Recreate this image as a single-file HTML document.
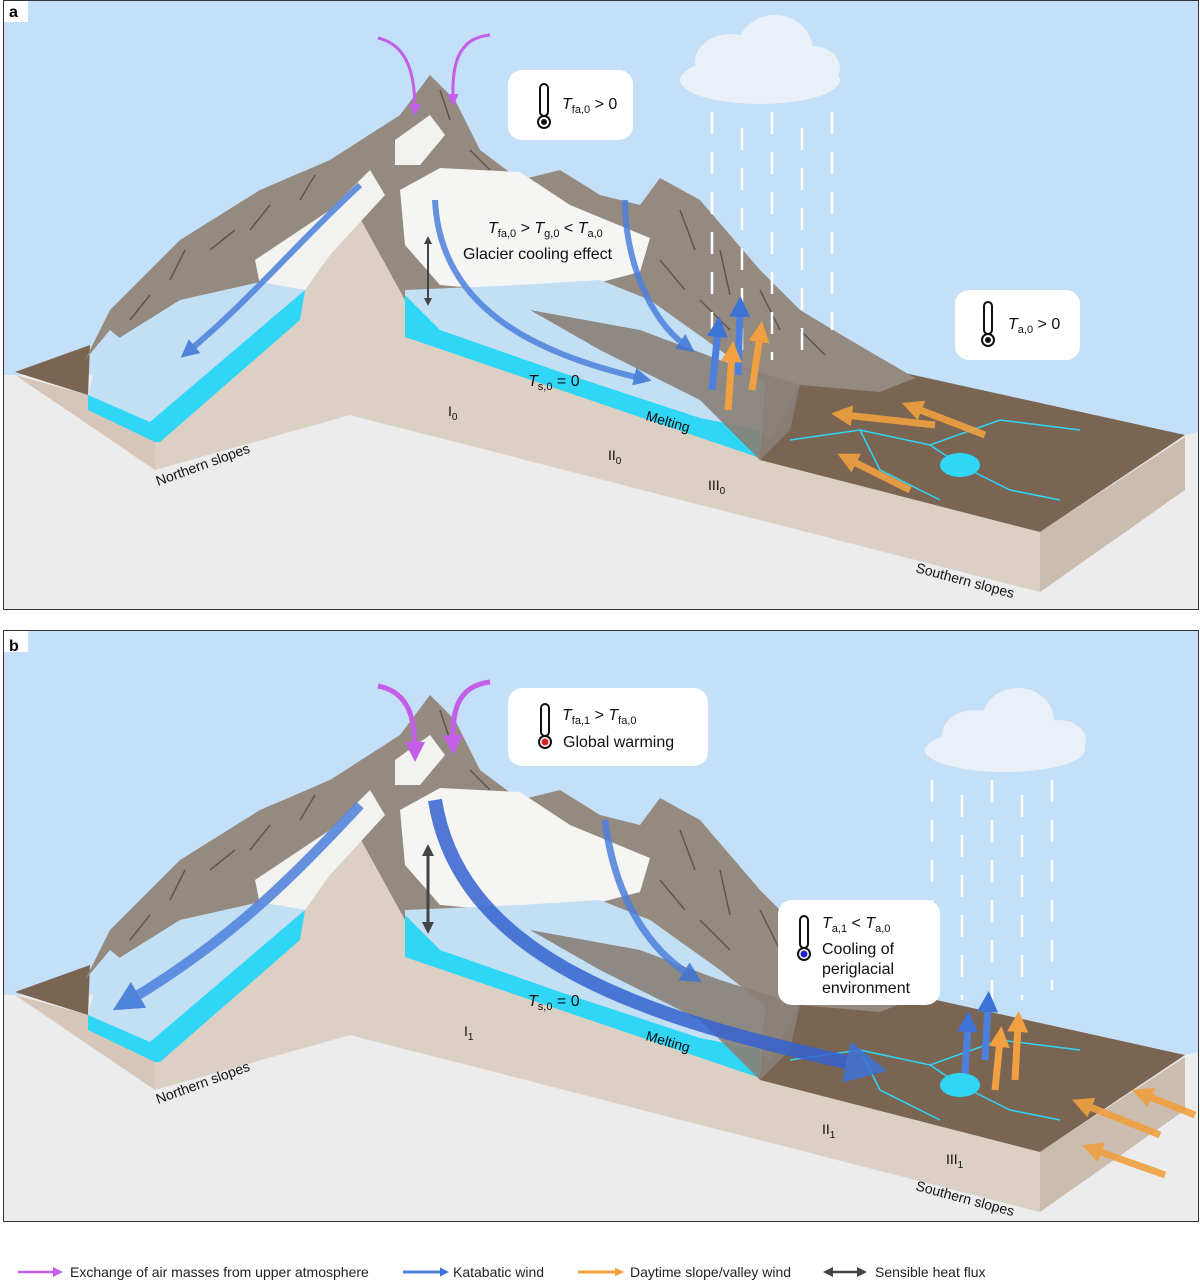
<!DOCTYPE html>
<html><head><meta charset="utf-8"><style>
html,body{margin:0;padding:0;background:#fff;}
svg{display:block;font-family:"Liberation Sans",sans-serif;}
</style></head><body>
<svg width="1200" height="1281" viewBox="0 0 1200 1281" xmlns="http://www.w3.org/2000/svg">
<defs>
<marker id="mM" markerWidth="4" markerHeight="4" refX="2" refY="2" orient="auto" markerUnits="strokeWidth"><path d="M0,0 L4,2 L0,4 z" fill="#c35ee8"/></marker>
<marker id="mB" markerWidth="3" markerHeight="3" refX="1" refY="1.5" orient="auto" markerUnits="strokeWidth"><path d="M0,0 L3,1.5 L0,3 z" fill="#3d73d6"/></marker>
<marker id="mO" markerWidth="3" markerHeight="3" refX="1" refY="1.5" orient="auto" markerUnits="strokeWidth"><path d="M0,0 L3,1.5 L0,3 z" fill="#f0a040"/></marker>
<marker id="mG" markerWidth="4" markerHeight="4" refX="2" refY="2" orient="auto" markerUnits="strokeWidth"><path d="M0,0 L4,2 L0,4 z" fill="#444"/></marker>
<marker id="mGs" markerWidth="4" markerHeight="4" refX="2" refY="2" orient="auto-start-reverse" markerUnits="strokeWidth"><path d="M0,0 L4,2 L0,4 z" fill="#444"/></marker>
<g id="terrain">
  <polygon points="15,375 155,470 155,440 88,395" fill="#d5c6b9"/>
  <polygon points="15,372 90,345 88,395" fill="#7a6553"/>
  <polygon points="350,200 350,415 155,470 155,440 190,400 300,290" fill="#dccfc3"/>
  <polygon points="350,200 405,295 405,335 760,458 1040,532 1040,592 350,415" fill="#dccfc3"/>
  <polygon points="1040,532 1185,437 1185,490 1040,592" fill="#cbbcb0"/>
  <polygon points="640,365 900,372 1185,435 1040,532 760,460 720,400" fill="#7a6553"/>
  <polygon points="85,360 110,310 180,240 260,190 330,160 400,115 430,75 455,100 480,150 520,180 560,170 600,195 640,205 660,178 700,200 760,270 800,310 850,340 915,378 880,392 800,385 770,440 720,400 640,300 560,330 405,300 350,200 300,290 190,395 110,330" fill="#958a80"/>
  <g stroke="#4a3f38" stroke-width="1.5" fill="none" opacity="0.7">
    <path d="M130,320 l20,-25 M170,280 l15,-30 M210,250 l25,-20 M250,230 l20,-25 M300,200 l15,-25 M440,90 l10,30 M470,150 l20,20 M680,210 l15,40 M720,250 l10,45 M760,290 l20,40 M800,330 l25,25 M700,300 l30,30 M660,260 l25,30"/>
  </g>
  <polygon points="255,260 330,210 370,170 385,195 330,255 305,290 260,285" fill="#f2f2f0"/>
  <polygon points="88,395 100,350 180,300 260,282 305,290 240,350 150,422" fill="#c2dff4"/>
  <polygon points="88,395 150,422 305,290 300,320 160,442 155,442 88,410" fill="#2fd6f5"/>
  <polygon points="395,140 430,115 445,135 420,165 395,165" fill="#f2f2f0"/>
  <polygon points="400,190 440,168 520,172 570,205 650,238 640,272 590,285 520,292 440,285 405,245" fill="#f5f5f3"/>
  <polygon points="405,290 520,285 600,280 650,300 720,350 765,385 760,455 405,330" fill="#c2dff4"/>
  <polygon points="405,295 440,330 560,372 700,418 760,430 760,458 405,337" fill="#2fd6f5"/>
  <polygon points="530,310 640,330 720,360 800,385 790,430 760,460 700,400 600,350" fill="#8a8078" opacity="0.9"/>
  <g stroke="#2fd6f5" stroke-width="1.5" fill="none">
    <path d="M790,440 L860,430 L930,445 L1000,420 L1080,430 M860,430 L880,470 L940,500 M960,465 L1010,490 L1060,500 M930,445 L960,465"/>
  </g>
</g>
</defs>

<!-- PANEL A -->
<rect x="3.5" y="0.5" width="1195" height="609" fill="#ececec" stroke="#333"/>
<polygon points="4,1 1198,1 1198,432 1185,435 900,372 4,375" fill="#c4dff8"/>
<use href="#terrain"/>
<g fill="#e9f0f7"><ellipse cx="760" cy="80" rx="80" ry="24"/><ellipse cx="730" cy="62" rx="35" ry="28"/><ellipse cx="775" cy="50" rx="38" ry="35"/><ellipse cx="812" cy="68" rx="28" ry="22"/></g>
<g stroke="#fff" stroke-width="2.5" stroke-dasharray="22,18">
<line x1="712" y1="112" x2="712" y2="350"/><line x1="742" y1="128" x2="742" y2="360"/><line x1="772" y1="112" x2="772" y2="360"/><line x1="802" y1="128" x2="802" y2="350"/><line x1="832" y1="112" x2="832" y2="330"/></g>
<path d="M378,38 C410,45 415,80 415,110" fill="none" stroke="#c35ee8" stroke-width="3" marker-end="url(#mM)"/>
<path d="M490,35 C455,38 452,70 453,100" fill="none" stroke="#c35ee8" stroke-width="3" marker-end="url(#mM)"/>
<path d="M360,185 C300,240 250,300 190,350" fill="none" stroke="#4d80dc" stroke-width="6" opacity="0.85" marker-end="url(#mB)"/>
<path d="M435,200 C440,300 520,350 640,378" fill="none" stroke="#4d80dc" stroke-width="6" opacity="0.85" marker-end="url(#mB)"/>
<path d="M625,200 C625,260 650,320 685,345" fill="none" stroke="#4d80dc" stroke-width="6" opacity="0.85" marker-end="url(#mB)"/>
<path d="M712,390 L718,330" stroke="#4d80dc" stroke-width="7" marker-end="url(#mB)"/>
<path d="M738,375 L740,310" stroke="#4d80dc" stroke-width="7" marker-end="url(#mB)"/>
<path d="M728,410 L732,355" stroke="#f0a040" stroke-width="7" marker-end="url(#mO)"/>
<path d="M752,390 L760,335" stroke="#f0a040" stroke-width="7" marker-end="url(#mO)"/>
<path d="M935,425 L845,415" stroke="#f0a040" stroke-width="7" opacity="0.9" marker-end="url(#mO)"/>
<path d="M985,435 L915,408" stroke="#f0a040" stroke-width="7" opacity="0.9" marker-end="url(#mO)"/>
<path d="M910,490 L850,460" stroke="#f0a040" stroke-width="7" opacity="0.9" marker-end="url(#mO)"/>
<line x1="428" y1="240" x2="428" y2="302" stroke="#444" stroke-width="2" marker-start="url(#mGs)" marker-end="url(#mG)"/>
<ellipse cx="960" cy="465" rx="20" ry="12" fill="#2fd6f5"/>
<rect x="508" y="70" width="125" height="70" rx="14" fill="#fff"/>
<rect x="955" y="290" width="125" height="70" rx="14" fill="#fff"/>
<g font-size="16" fill="#111">
<text x="562" y="109"><tspan font-style="italic">T</tspan><tspan font-size="11" dy="4">fa,0</tspan><tspan dy="-4"> &gt; 0</tspan></text>
<text x="1008" y="329"><tspan font-style="italic">T</tspan><tspan font-size="11" dy="4">a,0</tspan><tspan dy="-4"> &gt; 0</tspan></text>
<text x="488" y="233"><tspan font-style="italic">T</tspan><tspan font-size="11" dy="4">fa,0</tspan><tspan dy="-4"> &gt; </tspan><tspan font-style="italic">T</tspan><tspan font-size="11" dy="4">g,0</tspan><tspan dy="-4"> &lt; </tspan><tspan font-style="italic">T</tspan><tspan font-size="11" dy="4">a,0</tspan></text>
<text x="463" y="259">Glacier cooling effect</text>
<text x="528" y="386"><tspan font-style="italic">T</tspan><tspan font-size="11" dy="4">s,0</tspan><tspan dy="-4"> = 0</tspan></text>
</g>
<g font-size="14" fill="#111">
<text x="448" y="416">I<tspan font-size="10" dy="4">0</tspan></text>
<text x="608" y="460">II<tspan font-size="10" dy="4">0</tspan></text>
<text x="708" y="490">III<tspan font-size="10" dy="4">0</tspan></text>
<text x="645" y="420" transform="rotate(16 645 420)">Melting</text>
<text x="158" y="486" transform="rotate(-20 158 486)">Northern slopes</text>
<text x="915" y="572" transform="rotate(15 915 572)">Southern slopes</text>
</g>
<g fill="none" stroke="#111" stroke-width="2"><rect x="540" y="84" width="8" height="32" rx="4"/><circle cx="544" cy="122" r="6"/></g><circle cx="544" cy="122" r="3" fill="#111"/>
<g fill="none" stroke="#111" stroke-width="2"><rect x="984" y="302" width="8" height="32" rx="4"/><circle cx="988" cy="340" r="6"/></g><circle cx="988" cy="340" r="3" fill="#111"/>
<rect x="4" y="1" width="24" height="21" fill="#fff"/><text x="9" y="17" font-size="16" font-weight="bold">a</text>

<!-- PANEL B -->
<rect x="3.5" y="630.5" width="1195" height="591" fill="#ececec" stroke="#333"/>
<polygon points="4,631 1198,631 1198,1052 1185,1055 900,992 4,995" fill="#c4dff8"/>
<use href="#terrain" y="620"/>
<g fill="#e9f0f7"><ellipse cx="1005" cy="750" rx="80" ry="22"/><ellipse cx="975" cy="735" rx="33" ry="25"/><ellipse cx="1018" cy="720" rx="36" ry="32"/><ellipse cx="1058" cy="740" rx="28" ry="20"/></g>
<g stroke="#fff" stroke-width="2.5" stroke-dasharray="22,18">
<line x1="932" y1="780" x2="932" y2="990"/><line x1="962" y1="795" x2="962" y2="1000"/><line x1="992" y1="780" x2="992" y2="1000"/><line x1="1022" y1="795" x2="1022" y2="1000"/><line x1="1052" y1="780" x2="1052" y2="990"/></g>
<path d="M378,686 C410,692 415,720 415,752" fill="none" stroke="#c35ee8" stroke-width="5" marker-end="url(#mM)"/>
<path d="M490,682 C455,686 452,715 453,745" fill="none" stroke="#c35ee8" stroke-width="5" marker-end="url(#mM)"/>
<path d="M360,805 C290,880 230,940 130,1000" fill="none" stroke="#4d80dc" stroke-width="10" opacity="0.85" marker-end="url(#mB)"/>
<path d="M435,800 C460,960 650,1020 860,1065" fill="none" stroke="#3563d0" stroke-width="14" opacity="0.85" marker-end="url(#mB)"/>
<path d="M605,820 C615,900 650,950 690,975" fill="none" stroke="#4d80dc" stroke-width="7" opacity="0.85" marker-end="url(#mB)"/>
<path d="M965,1075 L968,1025" stroke="#4d80dc" stroke-width="7" marker-end="url(#mB)"/>
<path d="M985,1060 L988,1005" stroke="#4d80dc" stroke-width="7" marker-end="url(#mB)"/>
<path d="M995,1090 L1000,1040" stroke="#f0a040" stroke-width="7" marker-end="url(#mO)"/>
<path d="M1015,1080 L1018,1025" stroke="#f0a040" stroke-width="7" marker-end="url(#mO)"/>
<path d="M1160,1135 L1085,1105" stroke="#f0a040" stroke-width="7" opacity="0.9" marker-end="url(#mO)"/>
<path d="M1195,1115 L1145,1095" stroke="#f0a040" stroke-width="7" opacity="0.9" marker-end="url(#mO)"/>
<path d="M1165,1175 L1095,1150" stroke="#f0a040" stroke-width="7" opacity="0.9" marker-end="url(#mO)"/>
<line x1="428" y1="850" x2="428" y2="928" stroke="#444" stroke-width="3" marker-start="url(#mGs)" marker-end="url(#mG)"/>
<ellipse cx="960" cy="1085" rx="20" ry="12" fill="#2fd6f5"/>
<rect x="508" y="688" width="200" height="78" rx="14" fill="#fff"/>
<rect x="778" y="900" width="162" height="105" rx="14" fill="#fff"/>
<g font-size="16" fill="#111">
<text x="562" y="720"><tspan font-style="italic">T</tspan><tspan font-size="11" dy="4">fa,1</tspan><tspan dy="-4"> &gt; </tspan><tspan font-style="italic">T</tspan><tspan font-size="11" dy="4">fa,0</tspan></text>
<text x="563" y="747">Global warming</text>
<text x="822" y="928"><tspan font-style="italic">T</tspan><tspan font-size="11" dy="4">a,1</tspan><tspan dy="-4"> &lt; </tspan><tspan font-style="italic">T</tspan><tspan font-size="11" dy="4">a,0</tspan></text>
<text x="822" y="954">Cooling of</text>
<text x="822" y="974">periglacial</text>
<text x="822" y="993">environment</text>
<text x="528" y="1006"><tspan font-style="italic">T</tspan><tspan font-size="11" dy="4">s,0</tspan><tspan dy="-4"> = 0</tspan></text>
</g>
<g font-size="14" fill="#111">
<text x="464" y="1036">I<tspan font-size="10" dy="4">1</tspan></text>
<text x="822" y="1134">II<tspan font-size="10" dy="4">1</tspan></text>
<text x="946" y="1164">III<tspan font-size="10" dy="4">1</tspan></text>
<text x="645" y="1040" transform="rotate(16 645 1040)">Melting</text>
<text x="158" y="1104" transform="rotate(-20 158 1104)">Northern slopes</text>
<text x="915" y="1190" transform="rotate(15 915 1190)">Southern slopes</text>
</g>
<g fill="none" stroke="#111" stroke-width="2"><rect x="541" y="704" width="8" height="32" rx="4"/><circle cx="545" cy="742" r="6"/></g><circle cx="545" cy="742" r="3.5" fill="#e02020"/>
<g fill="none" stroke="#111" stroke-width="2"><rect x="800" y="916" width="8" height="32" rx="4"/><circle cx="804" cy="954" r="6"/></g><circle cx="804" cy="954" r="3.5" fill="#2020d0"/>
<rect x="4" y="631" width="24" height="21" fill="#fff"/><text x="9" y="651" font-size="16" font-weight="bold">b</text>

<!-- LEGEND -->
<g stroke-width="2.5">
<line x1="18" y1="1272" x2="58" y2="1272" stroke="#c35ee8" marker-end="url(#mM)"/>
<line x1="403" y1="1272" x2="443" y2="1272" stroke="#4d80dc" stroke-width="3" marker-end="url(#mB)"/>
<line x1="578" y1="1272" x2="618" y2="1272" stroke="#f0a040" stroke-width="3" marker-end="url(#mO)"/>
<line x1="828" y1="1272" x2="862" y2="1272" stroke="#444" marker-start="url(#mGs)" marker-end="url(#mG)"/>
</g>
<g font-size="14" fill="#222">
<text x="70" y="1277">Exchange of air masses from upper atmosphere</text>
<text x="453" y="1277">Katabatic wind</text>
<text x="630" y="1277">Daytime slope/valley wind</text>
<text x="875" y="1277">Sensible heat flux</text>
</g>
</svg>
</body></html>
